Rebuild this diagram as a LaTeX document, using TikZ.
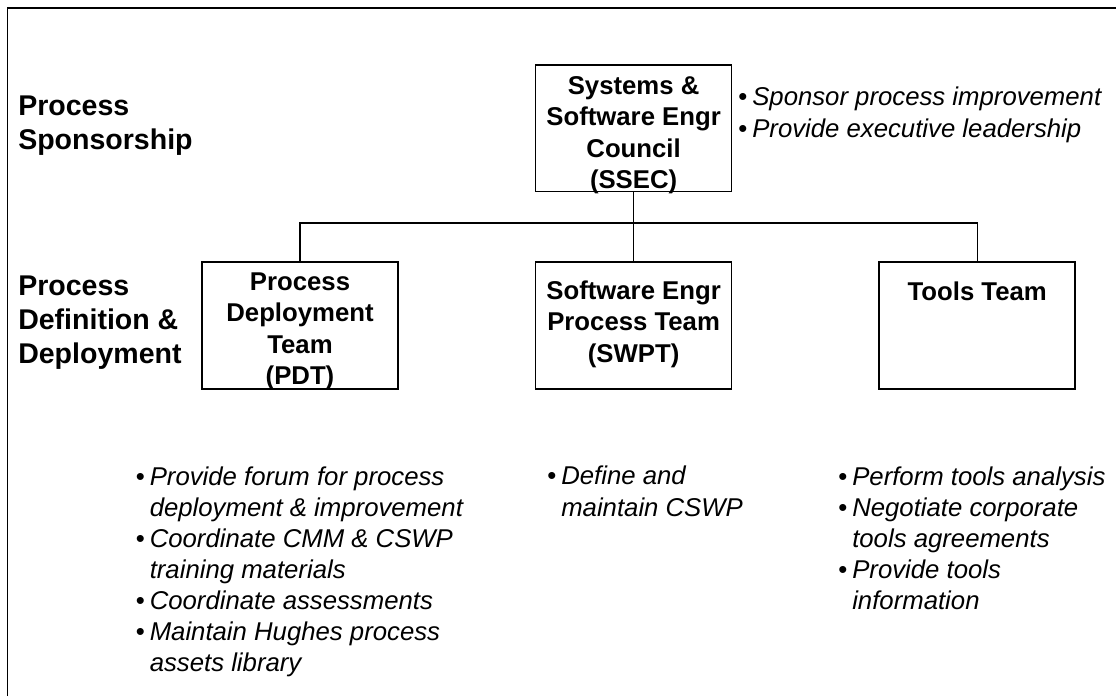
\documentclass[tikz,border=0pt]{standalone}
\usepackage{fontspec}
\setmainfont{Liberation Sans}
\usepackage{tikz}
\usetikzlibrary{positioning}

\newcommand{\bul}{\makebox[10.5pt][l]{\upshape\textbullet}}
\newcommand{\ind}{\hspace*{10.5pt}}

\tikzset{
    lvl/.style={font=\fontsize{21.4}{25.5}\selectfont\bfseries, align=left, anchor=base west, inner sep=0pt},
    unit/.style={draw, line width=1.2pt, minimum width=147pt, minimum height=95pt, inner sep=0pt},
    unittext/.style={font=\fontsize{19.3}{23.6}\selectfont\bfseries, align=center, anchor=base, inner sep=0pt},
    duties/.style={font=\fontsize{19.3}{23.3}\selectfont\itshape, align=left, anchor=base west, inner sep=0pt},
}

\begin{document}
\begin{tikzpicture}[x=0.75pt, y=-0.75pt]
        \useasboundingbox (0,0) rectangle (1116,696);
        \draw[line width=1.1pt] (7.5,696) |- (1116,8);

        % multi-line nodes are anchored at the baseline of their last line
        \node[lvl] (spons) at (18,149) {Process\\Sponsorship};
        \node[lvl] (defdep) at (18,363) {Process\\Definition \&\\Deployment};

        \node[unit]                                       (pdt)   at (300,325.5) {};
        \node[unit, right=102pt of pdt]                   (swpt)  {};
        \node[unit, right=109.5pt of swpt]                (tools) {};
        \node[unit, above=51.75pt of swpt]                (ssec)  {};

        \node[unittext] (ssec-t)  at ([yshift=-93.3pt]ssec.north)  {Systems \&\\Software Engr\\Council\\(SSEC)};
        \node[unittext] (pdt-t)   at ([yshift=-92.6pt]pdt.north)   {Process\\Deployment\\Team\\(PDT)};
        \node[unittext] (swpt-t)  at ([yshift=-75.7pt]swpt.north)  {Software Engr\\Process Team\\(SWPT)};
        \node[unittext] (tools-t) at ([yshift=-29.25pt]tools.north) {Tools Team};

        \coordinate (bus) at (632,223);
        \draw[line width=1pt]
            (ssec) -- (swpt)
            (pdt.north) |- (bus) -| (tools.north);

        \node[duties] (ssec-d) at (738,137)
            {\bul Sponsor process improvement\\\bul Provide executive leadership};
        \node[duties] (pdt-d) at (135.5,671.4)
            {\bul Provide forum for process\\\ind deployment \& improvement\\\bul Coordinate CMM \& CSWP\\\ind training materials\\\bul Coordinate assessments\\\bul Maintain Hughes process\\\ind assets library};
        \node[duties] (swpt-d) at (547,516)
            {\bul Define and\\\ind maintain CSWP};
        \node[duties] (tools-d) at (838,609.3)
            {\bul Perform tools analysis\\\bul Negotiate corporate\\\ind tools agreements\\\bul Provide tools\\\ind information};
\end{tikzpicture}
\end{document}
